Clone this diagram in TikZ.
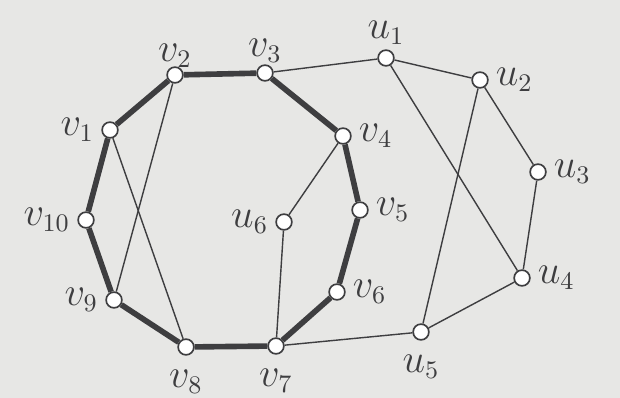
\documentclass[tikz,border=0pt]{standalone}
\usepackage{xcolor}
\usepackage{tikz}

\definecolor{paper}{RGB}{231,231,229}
\definecolor{ink}{RGB}{62,62,64}

\begin{document}
\begin{tikzpicture}[x=0.0125cm,y=-0.0125cm,
    vert/.style={circle,draw=ink,fill=white,line width=0.6pt,inner sep=0pt,minimum size=5.6pt},
    lab/.style={font=\fontsize{13.5pt}{15pt}\selectfont,text=ink},
    cyc/.style={draw=ink,line width=2pt},
    edg/.style={draw=ink,line width=0.5pt}]
    % paper background
    \fill[paper] (0,0) rectangle (620,398);
    \useasboundingbox (0,0) rectangle (620,398);

    % vertices of the left graph
    \node[vert,label={[lab,label distance=-1pt]left:$v_1$}] (v1) at (110,130) {};
    \node[vert,label={[lab,label distance=-4pt]above:$v_2$}] (v2) at (175,75) {};
    \node[vert,label={[lab,label distance=-3pt]above:$v_3$}] (v3) at (265,73) {};
    \node[vert,label={[lab,label distance=-1pt]right:$v_4$}] (v4) at (343,136) {};
    \node[vert,label={[lab,label distance=-1pt]right:$v_5$}] (v5) at (360,210) {};
    \node[vert,label={[lab,label distance=-1pt]right:$v_6$}] (v6) at (337,292) {};
    \node[vert,label={[lab,label distance=1.5pt]below:$v_7$}] (v7) at (276,346) {};
    \node[vert,label={[lab,label distance=1.5pt]below:$v_8$}] (v8) at (186,347) {};
    \node[vert,label={[lab,label distance=-1pt]left:$v_9$}] (v9) at (114,300) {};
    \node[vert,label={[lab,label distance=-1pt]left:$v_{10}$}] (v10) at (86,220) {};
    \node[vert,label={[lab,label distance=-1pt]left:$u_6$}] (u6) at (284,222) {};

    % vertices of the right graph
    \node[vert,label={[lab,label distance=-2pt]above:$u_1$}] (u1) at (386,58) {};
    \node[vert,label={[lab,label distance=-1pt]right:$u_2$}] (u2) at (480,80) {};
    \node[vert,label={[lab,label distance=-1pt]right:$u_3$}] (u3) at (538,172) {};
    \node[vert,label={[lab,label distance=-1pt]right:$u_4$}] (u4) at (522,278) {};
    \node[vert,label={[lab,label distance=1.5pt]below:$u_5$}] (u5) at (421,332) {};

    % the thick cycle
    \foreach \a/\b in {v1/v2,v2/v3,v3/v4,v4/v5,v5/v6,v6/v7,v7/v8,v8/v9,v9/v10,v10/v1}
        \draw[cyc] (\a) -- (\b);

    % thin edges
    \foreach \a/\b in {v1/v8,v2/v9,v3/u1,v4/u6,u6/v7,v7/u5,u1/u2,u2/u3,u3/u4,u4/u5,u1/u4,u2/u5}
        \draw[edg] (\a) -- (\b);
\end{tikzpicture}
\end{document}
